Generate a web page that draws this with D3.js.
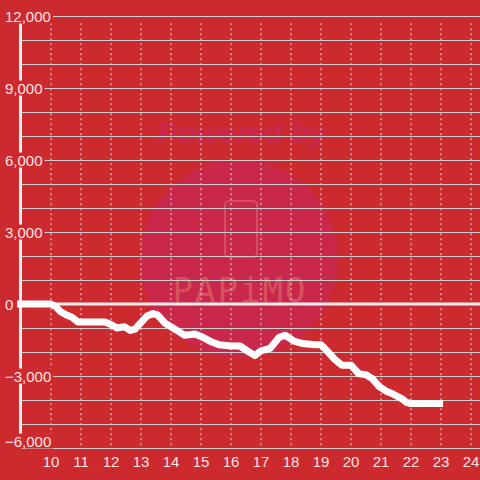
<!DOCTYPE html>
<html>
<head>
<meta charset="utf-8">
<script src="https://cdnjs.cloudflare.com/ajax/libs/d3/7.8.5/d3.min.js"></script>
<style>
  html, body { margin: 0; padding: 0; background: #cd2a2f; }
  svg { display: block; font-family: "Liberation Sans", Arial, sans-serif; }
</style>
</head>
<body>
<div id="viz"></div>
<script>
// hour of day vs running balance
var hours = [8.87, 10.0, 10.15, 10.3, 10.5, 10.7, 10.9, 11.2, 11.8, 12.0, 12.2, 12.45, 12.65, 12.8,
             13.2, 13.4, 13.55, 13.8, 14.0, 14.2, 14.45, 14.8, 15.0, 15.3, 15.6, 16.0, 16.3, 16.6,
             16.8, 17.0, 17.3, 17.6, 17.8, 18.1, 18.4, 18.8, 19.0, 19.2, 19.45, 19.7, 20.0, 20.25,
             20.5, 20.7, 20.95, 21.2, 21.4, 21.7, 21.85, 22.0, 23.07];
var balance = [0, 0, -100, -300, -450, -550, -750, -750, -750, -850, -1000, -950, -1100, -1050,
               -500, -400, -450, -800, -950, -1100, -1300, -1250, -1350, -1550, -1700, -1750, -1750, -2000,
               -2150, -1950, -1850, -1400, -1300, -1550, -1650, -1700, -1700, -1950, -2300, -2550, -2550, -2900,
               -2950, -3100, -3450, -3650, -3750, -3950, -4100, -4150, -4150];
var xTicks = [10, 11, 12, 13, 14, 15, 16, 17, 18, 19, 20, 21, 22, 23, 24];
var yLabelTicks = [-6000, -3000, 0, 3000, 6000, 9000, 12000];
var yGridTicks = d3.range(-6000, 12001, 1000);

var width = 480,
    height = 480,
    bg = '#cd2a2f',
    textColor = '#f6e4e4';

var svg = d3.select('#viz').append('svg')
  .attr('width', width)
  .attr('height', height);

svg.append('rect')
  .attr('width', width)
  .attr('height', height)
  .attr('fill', bg);

var xScale = d3.scaleLinear()
  .domain([9, 24.3])
  .range([21, 480]);

var yScale = d3.scaleLinear()
  .domain([-6000, 12000])
  .range([448, 16]);

// watermark
var wm = svg.append('g');
wm.append('circle')
  .attr('cx', 239)
  .attr('cy', 259)
  .attr('r', 99)
  .attr('fill', '#c9284a');
wm.append('text')
  .attr('x', 242)
  .attr('y', 143)
  .attr('text-anchor', 'middle')
  .attr('font-size', 30)
  .attr('font-weight', 'bold')
  .attr('font-style', 'italic')
  .attr('fill', '#c7294f')
  .text('Powered by');
wm.append('rect')
  .attr('x', 225)
  .attr('y', 201)
  .attr('width', 32)
  .attr('height', 56)
  .attr('rx', 4)
  .attr('fill', 'none')
  .attr('stroke', '#d54f63')
  .attr('stroke-width', 2);
wm.append('text')
  .attr('x', 240)
  .attr('y', 302)
  .attr('text-anchor', 'middle')
  .attr('font-size', 34)
  .attr('letter-spacing', 2)
  .attr('font-family', '"DejaVu Sans Mono", monospace')
  .attr('fill', '#d6525f')
  .text('PAPiMO');

// vertical dashed grid
svg.append('g').selectAll('line')
  .data(xTicks)
  .enter().append('line')
    .attr('x1', function(d) { return xScale(d); })
    .attr('x2', function(d) { return xScale(d); })
    .attr('y1', yScale(11700))
    .attr('y2', yScale(-5960))
    .attr('stroke', '#e6dede')
    .attr('stroke-width', 1)
    .attr('stroke-dasharray', '2,3');

// horizontal grid
svg.append('g').selectAll('line')
  .data(yGridTicks)
  .enter().append('line')
    .attr('x1', xScale(9))
    .attr('x2', width)
    .attr('y1', function(d) { return yScale(d) + 0.5; })
    .attr('y2', function(d) { return yScale(d) + 0.5; })
    .attr('stroke', '#cfcfcf')
    .attr('stroke-width', 1.2);

// y axis line
svg.append('line')
  .attr('x1', xScale(9) - 0.5)
  .attr('x2', xScale(9) - 0.5)
  .attr('y1', yScale(12000))
  .attr('y2', yScale(-5450))
  .attr('stroke', '#f4f0f0')
  .attr('stroke-width', 3);

// zero line
svg.append('line')
  .attr('x1', xScale(9))
  .attr('x2', width)
  .attr('y1', yScale(0))
  .attr('y2', yScale(0))
  .attr('stroke', '#f4f0f0')
  .attr('stroke-width', 3);

// y labels with background boxes (bottom one is lifted above the x labels)
var yLab = svg.append('g').selectAll('g')
  .data(yLabelTicks)
  .enter().append('g');

yLab.append('text')
  .attr('x', 5)
  .attr('y', function(d) { return Math.min(yScale(d) + 5.5, 446.5); })
  .attr('font-size', 15)
  .attr('fill', textColor)
  .text(function(d) { return d3.format(',')(d); });

yLab.each(function() {
  var g = d3.select(this),
      b = g.select('text').node().getBBox();
  g.insert('rect', 'text')
    .attr('x', b.x - 2)
    .attr('y', b.y + 1)
    .attr('width', b.width + 4)
    .attr('height', b.height - 2)
    .attr('fill', bg);
});

// x labels
svg.append('g').selectAll('text')
  .data(xTicks)
  .enter().append('text')
    .attr('x', function(d) { return xScale(d); })
    .attr('y', 467)
    .attr('text-anchor', 'middle')
    .attr('font-size', 15)
    .attr('fill', textColor)
    .text(function(d) { return d; });

// balance line
var line = d3.line()
  .x(function(d, i) { return xScale(hours[i]); })
  .y(function(d) { return yScale(d); });

svg.append('path')
  .datum(balance)
  .attr('d', line)
  .attr('fill', 'none')
  .attr('stroke', '#ffffff')
  .attr('stroke-width', 7)
  .attr('stroke-linejoin', 'round');
</script>
</body>
</html>
